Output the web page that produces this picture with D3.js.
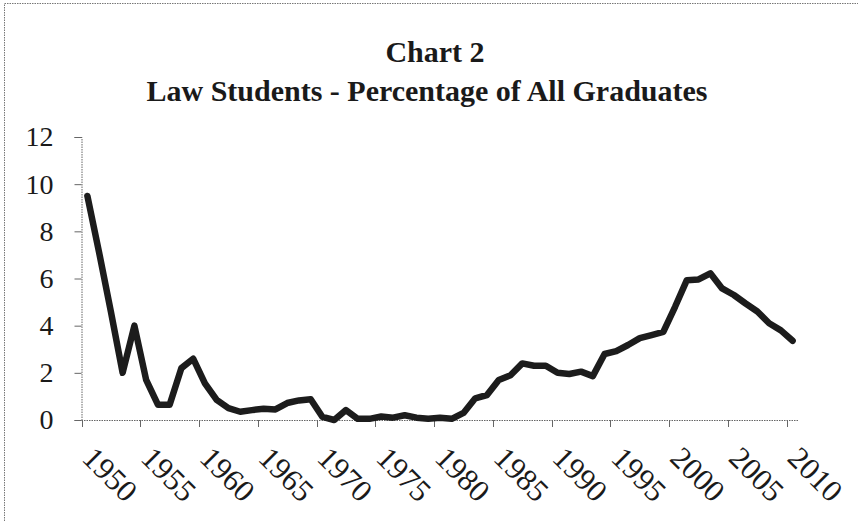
<!DOCTYPE html>
<html>
<head>
<meta charset="utf-8">
<script src="https://cdn.jsdelivr.net/npm/d3@7"></script>
<style>
    html, body { margin: 0; padding: 0; background: #fff; }
    svg { display: block; }
    text { font-family: "Liberation Serif", "DejaVu Serif", serif; fill: #1a1a1a; }
</style>
</head>
<body>
<div id="chart"></div>
<script>
// categories
var years = d3.range(1950, 2011);
var labelYears = [1950, 1955, 1960, 1965, 1970, 1975, 1980, 1985, 1990, 1995, 2000, 2005, 2010];
var yTicks = [0, 2, 4, 6, 8, 10, 12];

// law students as % of all graduates
var lawShare = [
    9.5, 7.1, 4.6, 2.0, 4.0, 1.7, 0.65, 0.65, 2.2, 2.6,
    1.55, 0.85, 0.5, 0.35, 0.42, 0.48, 0.45, 0.72, 0.83, 0.88,
    0.13, 0.0, 0.42, 0.05, 0.05, 0.15, 0.1, 0.2, 0.1, 0.05,
    0.1, 0.05, 0.3, 0.92, 1.06, 1.7, 1.9, 2.4, 2.3, 2.3,
    2.0, 1.95, 2.05, 1.86, 2.8, 2.92, 3.18, 3.47, 3.6, 3.74,
    4.8, 5.93, 5.96, 6.22, 5.58, 5.3, 4.94, 4.6, 4.1, 3.8,
    3.36
];

var w = 858;
var h = 521;

var svg = d3.select("#chart").append("svg")
    .attr("width", w)
    .attr("height", h);

svg.append("rect")
    .attr("width", w)
    .attr("height", h)
    .attr("fill", "#ffffff");

// scanned frame: only left and top edges show
svg.append("path")
    .attr("d", "M4.5," + h + "V3.5H" + w)
    .attr("fill", "none")
    .attr("stroke", "#777")
    .attr("stroke-width", 1)
    .attr("stroke-dasharray", "1.5,1");

// title
svg.append("text")
    .attr("x", 435)
    .attr("y", 62)
    .attr("text-anchor", "middle")
    .style("font-size", "30px")
    .style("font-weight", "bold")
    .text("Chart 2");

svg.append("text")
    .attr("x", 427)
    .attr("y", 101)
    .attr("text-anchor", "middle")
    .style("font-size", "30px")
    .style("font-weight", "bold")
    .text("Law Students - Percentage of All Graduates");

var x = d3.scaleBand()
    .domain(years)
    .range([81.5, 798.5])
    .paddingInner(0)
    .paddingOuter(0);

var y = d3.scaleLinear()
    .domain([0, 12])
    .range([420, 137]);

function cx(year) {
    return x(year) + x.bandwidth() / 2;
}

// y axis
var yAxis = svg.append("g")
    .attr("transform", "translate(81.5,0)")
    .call(d3.axisLeft(y).tickValues(yTicks).tickSize(7).tickPadding(21));

yAxis.select(".domain")
    .attr("stroke", "#666")
    .attr("stroke-dasharray", "1.5,1");
yAxis.selectAll(".tick line").attr("stroke", "#666");
yAxis.selectAll(".tick text")
    .attr("fill", "#1a1a1a")
    .style("font-size", "28px")
    .style("font-family", "\"Liberation Serif\", \"DejaVu Serif\", serif");

// x axis: line, ticks on 5-year category boundaries, slanted labels
var xAxis = svg.append("g");

xAxis.append("line")
    .attr("x1", x.range()[0])
    .attr("x2", x.range()[1])
    .attr("y1", y(0) + 0.5)
    .attr("y2", y(0) + 0.5)
    .attr("stroke", "#666")
    .attr("stroke-dasharray", "1.5,1");

xAxis.selectAll("line.tk")
    .data(labelYears)
    .enter().append("line")
    .attr("class", "tk")
    .attr("x1", function (d) { return Math.round(x(d)) + 0.5; })
    .attr("x2", function (d) { return Math.round(x(d)) + 0.5; })
    .attr("y1", y(0))
    .attr("y2", y(0) + 7)
    .attr("stroke", "#666");

xAxis.selectAll("text")
    .data(labelYears)
    .enter().append("text")
    .attr("text-anchor", "middle")
    .attr("dy", "0.35em")
    .attr("transform", function (d) {
        return "translate(" + (cx(d) + 23) + "," + (y(0) + 54) + ")rotate(45)";
    })
    .style("font-size", "31px")
    .text(function (d) { return d; });

// the series
var line = d3.line()
    .x(function (d, i) { return cx(years[i]); })
    .y(function (d) { return y(d); });

svg.append("path")
    .datum(lawShare)
    .attr("d", line)
    .attr("fill", "none")
    .attr("stroke", "#1c1c1c")
    .attr("stroke-width", 6.5)
    .attr("stroke-linejoin", "round")
    .attr("stroke-linecap", "round");
</script>
</body>
</html>
